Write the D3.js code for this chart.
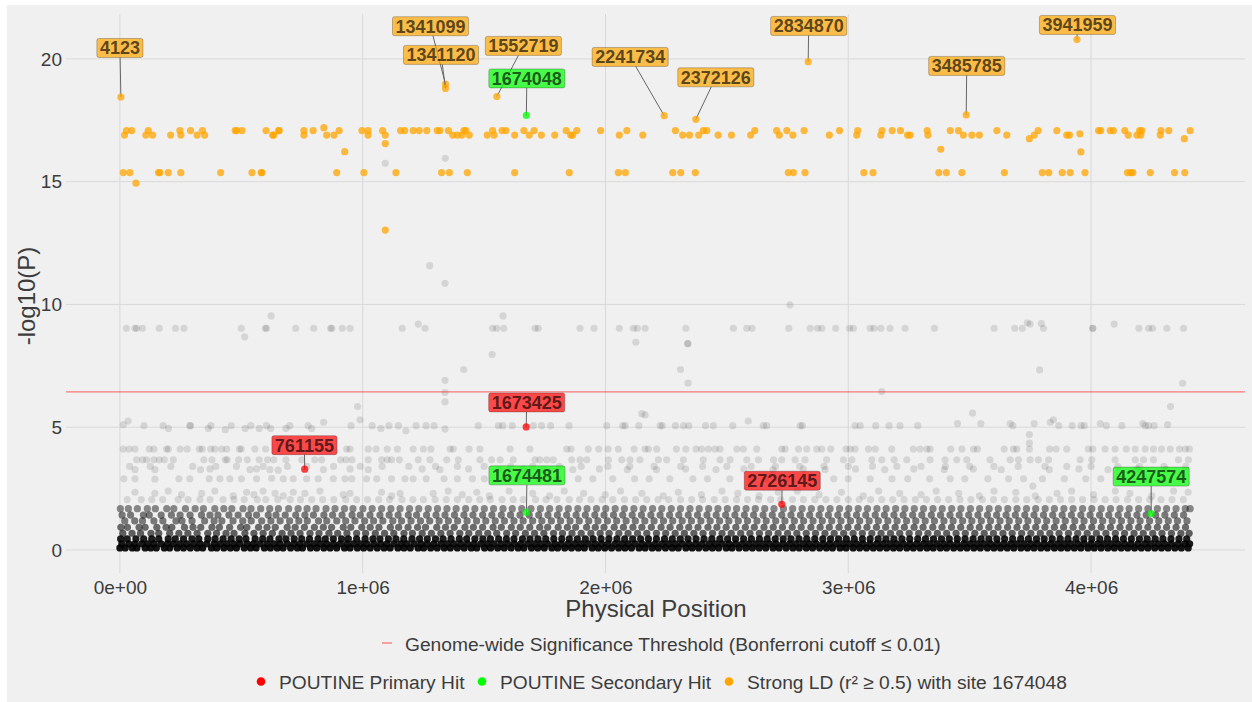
<!DOCTYPE html>
<html>
<head>
<meta charset="utf-8">
<script src="https://cdn.jsdelivr.net/npm/d3@7"></script>
<style>
  html, body { margin: 0; padding: 0; background: #fff; }
  svg { display: block; font-family: "Liberation Sans", Arial, Helvetica, sans-serif; }
</style>
</head>
<body>
<svg id="chart" width="1252" height="702"></svg>
<script>
// ---- data (positions in kb, values are -log10(P)) ----
const xTicks = [0, 1e6, 2e6, 3e6, 4e6];
const xTickLabels = ["0e+00", "1e+06", "2e+06", "3e+06", "4e+06"];
const yTicks = [0, 5, 10, 15, 20];
const threshold = 6.44; // Bonferroni cutoff <= 0.01

// dense band near zero: rows of sites, each mark stands for several stacked sites
const bandLevels = [0.08, 0.25, 0.45];
const bandCounts = [22, 20, 18];
const bandA = [0, 22, 51, 70, 104, 127, 150, 183, 205, 236, 262, 290, 318, 341, 377, 399, 428, 455, 480, 512, 538, 561, 595, 620, 648, 672, 703, 731, 752, 785, 811, 840, 866, 893, 925, 948, 978, 1004, 1031, 1060, 1088, 1113, 1145, 1170, 1196, 1228, 1251, 1280, 1307, 1336, 1361, 1390, 1418, 1447, 1470, 1502, 1527, 1556, 1583, 1611, 1640, 1664, 1695, 1721, 1748, 1779, 1803, 1832, 1860, 1888, 1913, 1945, 1970, 1997, 2025, 2054, 2080, 2107, 2138, 2163, 2192, 2218, 2247, 2275, 2300, 2331, 2357, 2384, 2413, 2440, 2466, 2497, 2521, 2550, 2578, 2605, 2633, 2660, 2690, 2715, 2744, 2772, 2798, 2827, 2853, 2882, 2910, 2935, 2966, 2991, 3020, 3047, 3075, 3103, 3130, 3158, 3186, 3212, 3241, 3268, 3296, 3324, 3350, 3379, 3405, 3434, 3462, 3489, 3517, 3544, 3573, 3600, 3627, 3655, 3682, 3711, 3738, 3765, 3793, 3820, 3849, 3876, 3903, 3931, 3958, 3987, 4013, 4041, 4069, 4096, 4124, 4151, 4179, 4207, 4234, 4262, 4290, 4317, 4345, 4372, 4400];
const bandB = [8, 37, 62, 90, 115, 141, 170, 196, 221, 249, 276, 304, 331, 358, 388, 414, 441, 469, 495, 524, 550, 578, 607, 634, 660, 689, 716, 742, 770, 798, 826, 852, 880, 908, 936, 963, 991, 1017, 1046, 1074, 1100, 1129, 1157, 1183, 1212, 1240, 1266, 1293, 1322, 1349, 1376, 1404, 1432, 1459, 1487, 1514, 1541, 1570, 1597, 1625, 1652, 1680, 1708, 1735, 1762, 1791, 1818, 1846, 1873, 1901, 1929, 1957, 1984, 2011, 2040, 2067, 2094, 2122, 2150, 2177, 2205, 2233, 2260, 2288, 2316, 2343, 2371, 2398, 2427, 2453, 2481, 2509, 2536, 2564, 2591, 2619, 2647, 2675, 2702, 2730, 2758, 2785, 2813, 2840, 2868, 2896, 2923, 2951, 2979, 3006, 3034, 3061, 3089, 3117, 3144, 3172, 3199, 3227, 3255, 3282, 3310, 3337, 3365, 3393, 3420, 3448, 3476, 3503, 3531, 3558, 3586, 3614, 3641, 3669, 3696, 3724, 3752, 3779, 3807, 3834, 3862, 3890, 3917, 3945, 3972, 4000, 4028, 4055, 4083, 4110, 4138, 4165, 4193, 4221, 4248, 4276, 4303, 4331, 4359, 4386, 4406];
const bandC = [3, 30, 66, 98, 131, 160, 199, 228, 262, 297, 325, 362, 392, 425, 458, 491, 519, 557, 588, 618, 655, 684, 718, 749, 781, 816, 846, 879, 913, 941, 975, 1010, 1042, 1071, 1106, 1137, 1169, 1203, 1234, 1266, 1300, 1331, 1364, 1398, 1428, 1462, 1495, 1526, 1560, 1592, 1623, 1658, 1689, 1722, 1754, 1787, 1820, 1851, 1884, 1917, 1949, 1982, 2014, 2047, 2079, 2112, 2145, 2177, 2210, 2243, 2275, 2308, 2340, 2373, 2406, 2438, 2471, 2503, 2536, 2569, 2601, 2634, 2666, 2699, 2732, 2764, 2797, 2829, 2862, 2895, 2927, 2960, 2992, 3025, 3058, 3090, 3123, 3155, 3188, 3221, 3253, 3286, 3318, 3351, 3384, 3416, 3449, 3481, 3514, 3547, 3579, 3612, 3644, 3677, 3710, 3742, 3775, 3807, 3840, 3873, 3905, 3938, 3970, 4003, 4036, 4068, 4101, 4133, 4166, 4199, 4231, 4264, 4296, 4329, 4362, 4394];

const midLevels = [0.68, 0.92, 1.18, 1.42, 1.68];
const midCounts = [8, 7, 6, 6, 5];
const midA = [12, 50, 85, 128, 160, 205, 243, 280, 318, 362, 398, 437, 470, 515, 552, 590, 628, 668, 705, 742, 783, 820, 861, 897, 935, 975, 1012, 1052, 1090, 1128, 1170, 1205, 1245, 1283, 1322, 1360, 1400, 1437, 1478, 1515, 1552, 1593, 1630, 1670, 1708, 1746, 1786, 1823, 1862, 1900, 1940, 1978, 2015, 2055, 2093, 2132, 2170, 2210, 2248, 2287, 2325, 2364, 2402, 2441, 2480, 2518, 2557, 2595, 2634, 2672, 2711, 2750, 2788, 2827, 2865, 2904, 2942, 2981, 3020, 3058, 3097, 3135, 3174, 3212, 3251, 3290, 3328, 3367, 3405, 3444, 3482, 3521, 3560, 3598, 3637, 3675, 3714, 3752, 3791, 3830, 3868, 3907, 3945, 3984, 4022, 4061, 4100, 4138, 4177, 4215, 4254, 4292, 4331, 4370, 4404];
const midB = [4, 31, 79, 104, 152, 190, 214, 266, 301, 333, 379, 410, 452, 497, 523, 571, 606, 640, 689, 722, 760, 801, 838, 872, 920, 951, 996, 1031, 1067, 1114, 1148, 1187, 1226, 1259, 1305, 1341, 1377, 1421, 1456, 1494, 1537, 1571, 1612, 1649, 1688, 1729, 1762, 1805, 1843, 1877, 1922, 1958, 1994, 2036, 2074, 2113, 2150, 2189, 2229, 2266, 2306, 2343, 2381, 2422, 2459, 2497, 2537, 2576, 2613, 2653, 2691, 2729, 2769, 2806, 2846, 2884, 2922, 2962, 2999, 3039, 3077, 3116, 3154, 3193, 3231, 3271, 3308, 3348, 3386, 3425, 3463, 3502, 3540, 3579, 3617, 3656, 3695, 3733, 3772, 3810, 3849, 3887, 3926, 3964, 4003, 4042, 4080, 4119, 4157, 4196, 4234, 4273, 4311, 4350, 4389];
const midC = [20, 61, 93, 140, 177, 231, 256, 297, 349, 388, 420, 466, 506, 541, 584, 622, 660, 699, 737, 772, 818, 852, 893, 930, 968, 1008, 1045, 1083, 1124, 1160, 1199, 1238, 1276, 1315, 1353, 1391, 1430, 1469, 1507, 1546, 1584, 1623, 1661, 1700, 1738, 1777, 1815, 1854, 1892, 1931, 1969, 2008, 2046, 2085, 2123, 2162, 2200, 2239, 2277, 2316, 2354, 2393, 2431, 2470, 2508, 2547, 2585, 2624, 2662, 2701, 2739, 2778, 2816, 2855, 2893, 2932, 2970, 3009, 3047, 3086, 3124, 3163, 3201, 3240, 3278, 3317, 3355, 3394, 3432, 3471, 3509, 3548, 3586, 3625, 3663, 3702, 3740, 3779, 3817, 3856, 3894, 3933, 3971, 4010, 4048, 4087, 4125, 4164, 4202, 4241, 4279, 4318, 4356, 4395];
const midD = [9, 44, 97, 121, 170, 212, 248, 289, 336, 371, 404, 449, 487, 530, 563, 611, 643, 681, 724, 762, 797, 840, 876, 915, 956, 990, 1030, 1071, 1109, 1146, 1188, 1222, 1263, 1302, 1339, 1378, 1417, 1454, 1494, 1532, 1571, 1609, 1648, 1686, 1725, 1763, 1802, 1840, 1879, 1917, 1956, 1994, 2033, 2071, 2110, 2148, 2187, 2225, 2264, 2302, 2341, 2379, 2418, 2456, 2495, 2533, 2572, 2610, 2649, 2687, 2726, 2764, 2803, 2841, 2880, 2918, 2957, 2995, 3034, 3072, 3111, 3149, 3188, 3226, 3265, 3303, 3342, 3380, 3419, 3457, 3496, 3534, 3573, 3611, 3650, 3688, 3727, 3765, 3804, 3842, 3881, 3919, 3958, 3996, 4035, 4073, 4112, 4150, 4189, 4227, 4266, 4304, 4343, 4381];
const midE = [2, 35, 72, 113, 146, 193, 222, 270, 310, 344, 391, 428, 461, 507, 540, 580, 617, 653, 695, 734, 771, 808, 849, 886, 925, 960, 1001, 1039, 1078, 1116, 1154, 1193, 1231, 1270, 1308, 1347, 1385, 1424, 1462, 1501, 1539, 1578, 1616, 1655, 1693, 1732, 1770, 1809, 1847, 1886, 1924, 1963, 2001, 2040, 2078, 2117, 2155, 2194, 2232, 2271, 2309, 2348, 2386, 2425, 2463, 2502, 2540, 2579, 2617, 2656, 2694, 2733, 2771, 2810, 2848, 2887, 2925, 2964, 3002, 3041, 3079, 3118, 3156, 3195, 3233, 3272, 3310, 3349, 3387, 3426, 3464, 3503, 3541, 3580, 3618, 3657, 3695, 3734, 3772, 3811, 3849, 3888, 3926, 3965, 4003, 4042, 4080, 4119, 4157, 4196, 4234, 4273, 4311, 4350, 4388, 4408];

// scattered sites between 2 and 3.4
const row205 = [30, 88, 131, 176, 240, 281, 330, 371, 425, 470, 512, 566, 601, 650, 702, 744, 790, 835, 881, 930, 975, 1020, 1066, 1110, 1162, 1207, 1250, 1298, 1344, 1390, 1437, 1482, 1525, 1574, 1620, 1661, 1712, 1755, 1800, 1851, 1893, 1940, 1986, 2030, 2078, 2124, 2170, 2216, 2260, 2309, 2355, 2400, 2448, 2493, 2540, 2585, 2630, 2680, 2722, 2770, 2815, 2862, 2908, 2953, 3000, 3045, 3092, 3138, 3183, 3230, 3276, 3322, 3368, 3413, 3460, 3505, 3552, 3598, 3643, 3690, 3735, 3782, 3828, 3874, 3920, 3965, 4012, 4058, 4103, 4150, 4196, 4242, 4288, 4333, 4380];
const row340 = [40, 125, 210, 300, 395, 480, 590, 690, 770, 880, 990, 1080, 1190, 1300, 1390, 1500, 1610, 1700, 1810, 1900, 2010, 2100, 2200, 2310, 2400, 2500, 2600, 2700, 2800, 2900, 3000, 3100, 3200, 3300, 3400, 3500, 3600, 3700, 3810, 3900, 4000, 4110, 4200, 4300, 4390];
const sparseLow = [[62,3.27],[144,3.27],[332,3.27],[371,3.3],[536,3.27],[563,3.3],[618,3.27],[652,3.25],[838,3.27],[948,3.3],[1023,3.27],
  [16,2.9],[62,2.9],[144,2.88],[243,2.9],[288,2.9],[368,2.9],[412,2.9],[453,2.9],[501,2.9],[563,2.9],[625,2.92],[673,2.9],[714,2.9],[769,2.9],[817,2.9],[879,2.9],[927,2.9],[955,2.9],[1016,2.9],[1058,2.9],[1119,2.9],[1174,2.9],[1208,2.9],
  [62,2.35],[144,2.3],[199,2.4],[254,2.25],[337,2.3],[391,2.4],[467,2.2],[522,2.35],[552,2.25],[590,2.4],[639,2.3],[673,2.2],[714,2.35],[762,2.3],[824,2.4],[920,2.25],[948,2.3],[1078,2.35],[1119,2.2],[1154,2.3],
  [1245,3.3],[1262,2.9],[1290,2.3],[1318,3.27],[1335,2.9],[1352,2.4],[1390,2.9],[1410,2.25],[1436,3.3],[1452,2.9],[1470,2.35],[1501,2.9],[1522,2.2],[1560,3.27],[1585,2.9],[1603,2.4],[1640,2.9],[1662,3.3],[1700,2.3],[1725,2.9],[1748,3.27],[1770,2.2],[1802,2.9],[1830,2.4],[1865,3.27],[1888,2.9],[1910,2.3],[1948,2.9],[1975,3.3],[1999,2.25],[2030,2.9],[2062,2.4],[2090,3.27],[2120,2.9],[2150,2.3],[2180,2.9],[2210,3.27],[2238,2.2],[2265,2.9],[2300,2.35],[2330,3.3],[2360,2.9],[2395,2.25],[2420,2.9],[2455,3.27],[2480,2.4],[2512,2.9],[2545,2.3],[2570,3.3],[2600,2.9],[2633,2.2],[2660,2.9],[2690,3.27],[2712,2.35],[2745,2.9],[2790,2.4],[2815,3.3],[2850,2.9],[2880,2.25],[2905,3.27],[2940,2.9],[2972,2.35],[3000,2.9],[3030,3.3],[3062,2.2],[3090,2.9],[3125,2.4],[3150,3.27],[3180,2.9],[3212,2.3],[3245,2.9],[3270,3.3],[3300,2.25],[3335,2.9],[3362,2.4],[3395,3.27],[3420,2.9],[3455,2.3],[3480,2.9],[3515,3.3],[3540,2.2],[3575,2.9],[3600,2.4],[3630,3.27],[3660,2.9],[3690,2.35],[3722,2.9],[3746,4.7],[3746,4.35],[3760,2.6],[3770,2.2],[3800,2.9],[3828,3.27],[3860,2.3],[3890,2.9],[3920,2.4],[3950,3.3],[3978,2.9],[4010,2.25],[4040,2.9],[4070,3.27],[4100,2.4],[4130,2.9],[4160,2.3],[4190,3.3],[4220,2.9],[4250,2.2],[4280,2.9],[4310,3.27],[4340,2.4],[4370,2.9],[4400,2.35]];

// rows near 3.67, 4.1 and 5.06
const row367 = [69, 93, 110, 140, 162, 183, 220, 346, 379, 434, 442, 489, 525, 574, 608, 634, 684, 749, 803, 831, 909, 931, 956, 1023, 1078, 1101, 1119, 1151, 1229, 1277, 1346, 1394, 1483, 1531, 1566, 1620, 1710, 1730, 1758, 1785, 1861, 1895, 1923, 2012, 2067, 2101, 2142, 2218, 2252, 2321, 2403, 2472, 2513, 2582, 2630, 2692, 2726, 2781, 2822, 2911, 2980, 3015, 3097, 3138, 3189, 3241, 3337, 3399, 3447, 3488, 3584, 3667, 3701, 3749, 3783, 3825, 3955, 4003, 4099, 4182, 4216, 4257, 4360, 4401];
const row410 = [14, 38, 62, 121, 140, 192, 200, 248, 277, 327, 339, 374, 391, 419, 440, 492, 500, 556, 600, 934, 948, 1023, 1055, 1101, 1143, 1208, 1250, 1281, 1360, 1373, 1438, 1483, 1607, 1689, 1840, 1858, 1929, 1972, 2011, 2053, 2118, 2163, 2177, 2211, 2292, 2331, 2373, 2396, 2424, 2451, 2472, 2541, 2568, 2623, 2726, 2740, 2795, 2829, 2870, 2891, 2928, 2991, 3008, 3028, 3083, 3111, 3179, 3268, 3296, 3324, 3337, 3422, 3468, 3516, 3532, 3642, 3680, 3694, 3746, 3829, 3856, 3900, 3989, 4007, 4058, 4099, 4145, 4182, 4223, 4257, 4290, 4326, 4364, 4388, 4405];
const row506 = [[14,5.1],[34,5.25],[99,5.06],[178,5.06],[200,4.95],[288,5.06],[291,5.06],[364,4.95],[375,5.06],[434,4.9],[459,5.06],[516,4.95],[539,5.06],[574,4.95],[604,5.06],[621,4.95],[684,4.95],[700,5.06],[775,5.06],[790,4.95],[839,5.2],[952,5.06],[989,5.3],[1039,5.06],[1075,4.95],[1108,5.06],[1147,5.06],[1178,4.85],[1220,5.06],
  [1261,5.06],[1294,5.06],[1339,4.93],[1476,5.06],[1559,5.06],[1577,5.06],[1616,5.06],[1703,5.06],[1737,5.06],[1774,5.06],[1850,5.06],[2005,5.06],[2071,5.06],[2081,5.06],[2137,5.06],[2150,5.55],[2163,5.5],[2225,5.06],[2234,5.06],[2288,5.06],[2321,5.06],[2343,5.06],[2412,5.06],[2444,5.06],[2524,5.06],[2588,5.25],[2650,5.06],[2664,5.06],[2802,5.06],[2811,5.06],
  [3028,5.06],[3049,5.06],[3113,5.06],[3168,5.06],[3213,5.06],[3286,5.06],[3450,5.15],[3546,5.15],[3667,5.15],[3678,5.06],[3766,5.15],[3832,5.2],[3845,5.3],[3867,5.06],[3922,5.06],[3959,5.06],[3972,5.06],[4038,5.15],[4063,5.06],[4127,5.06],[4213,5.15],[4223,5.06],[4237,5.06],[4260,5.06],[4315,5.1]];
const row903 = [27, 62, 69, 93, 162, 229, 264, 500, 599, 604, 724, 798, 868, 873, 916, 948, 1163, 1257, 1535, 1552, 1581, 1710, 1723, 1895, 1953, 2057, 2115, 2131, 2163, 2331, 2527, 2582, 2604, 2755, 2843, 2873, 2891, 2948, 3005, 3021, 3090, 3106, 3134, 3172, 3234, 3355, 3601, 3686, 3717, 3804, 4007, 4007, 4197, 4237, 4253, 4312, 4381];
const greyOther = [[514,8.68],[623,9.53],[1229,9.2],[1276,11.58],[1339,10.86],[1578,9.53],[1533,7.96],[1416,7.35],[1339,6.91],[1339,6.41],[1339,6.03],[2125,8.46],[2339,8.4],[2339,8.4],[2309,7.35],[2340,6.8],[2760,9.98],[3738,9.25],[3749,9.2],[3795,9.22],[4095,9.2],[3788,7.33],[3138,6.45],[4377,6.79],[4327,5.84],[3512,5.57],[979,5.84],[1093,15.75],[1340,15.95]];

// sites in strong LD (r2 >= 0.5) with 1674048
const ldRow1708 = [27, 49, 117, 247, 291, 340, 475, 481, 503, 602, 654, 656, 758, 796, 903, 997, 1022, 1082, 1156, 1173, 1208, 1233, 1264, 1307, 1318, 1353, 1417, 1425, 1535, 1574, 1590, 1664, 1706, 1838, 1882, 1980, 2088, 2288, 2403, 2417, 2615, 2705, 2747, 2818, 2964, 3039, 3139, 3181, 3215, 3325, 3420, 3454, 3612, 3782, 3859, 4031, 4040, 4079, 4092, 4139, 4200, 4209, 4288, 4320, 4408];
const ldRow1690 = [19, 107, 135, 209, 251, 318, 349, 629, 634, 758, 852, 882, 1022, 1093, 1371, 1390, 1409, 1439, 1513, 1541, 1626, 1686, 1736, 1791, 1857, 1865, 2057, 2154, 2318, 2346, 2384, 2464, 2519, 2598, 2716, 2772, 2922, 3035, 3134, 3244, 3255, 3328, 3474, 3509, 3540, 3653, 3766, 3900, 3911, 4153, 4189, 4205, 4285];
const ldRow1537 = [14, 41, 159, 165, 199, 251, 415, 544, 582, 585, 893, 1005, 1137, 1325, 1357, 1431, 1626, 1851, 2053, 2082, 2277, 2310, 2370, 2753, 2774, 2822, 3064, 3102, 3373, 3404, 3468, 3643, 3799, 3826, 3881, 3914, 3975, 4150, 4164, 4172, 4244, 4344, 4386];
const ldOther = [[66,14.94],[926,16.22],[1093,16.55],[1093,13.03],[3381,16.32],[3958,16.21],[3954,16.95],[840,17.2],[3746,16.75],[4384,16.75]];

// labelled sites
const ldSites = [4123, 1341099, 1341120, 1552719, 2241734, 2372126, 2834870, 3485785, 3941959];
const ldLogP = [18.45, 18.97, 18.8, 18.47, 17.69, 17.54, 19.89, 17.72, 20.79];
const primarySites = [761155, 1673425, 2726145];
const primaryLogP = [3.29, 5.01, 1.86];
const secondarySites = [1674048, 1674481, 4247574];
const secondaryLogP = [17.7, 1.53, 1.48];

// where each label box sits relative to its point (px)
const labelNudge = {
  4123: [-1, -49], 1341099: [-15, -58], 1341120: [-4.5, -33.5], 1552719: [26.5, -50.6],
  1674048: [0.5, -37], 2241734: [-34, -58.7], 2372126: [20, -42], 2834870: [0.5, -35.7],
  3485785: [0.5, -49], 3941959: [0.5, -14.6], 1673425: [0.5, -24.5], 761155: [-0.3, -24],
  1674481: [0.5, -37], 2726145: [0.5, -23.5], 4247574: [0, -37]
};

// ---- drawing ----
const W = 1252, H = 702;
const svg = d3.select("#chart");
const ink = "#3c3c3c";
const orange = "#FFA500", green = "#00FF00", red = "#FF0000";
const R = 3.6;

svg.append("rect").attr("x", 7).attr("y", 5).attr("width", W - 7).attr("height", H - 5).attr("fill", "#f0f0f0");

const x = d3.scaleLinear().domain([-222000, 4634000]).range([66, 1245]);
const y = d3.scaleLinear().domain([-0.94, 21.83]).range([573, 14]);
const kb = v => x(v * 1000);

// grid
const grid = svg.append("g").attr("stroke", "#d9d9d9").attr("stroke-width", 1);
grid.selectAll(".gy").data(yTicks).enter().append("line")
  .attr("x1", 66).attr("x2", 1245).attr("y1", d => y(d)).attr("y2", d => y(d));
grid.selectAll(".gx").data(xTicks).enter().append("line")
  .attr("y1", 14).attr("y2", 573).attr("x1", d => x(d)).attr("x2", d => x(d));

// axes text
const yAxis = d3.axisLeft(y).tickValues(yTicks).tickSize(0).tickPadding(0);
svg.append("g").attr("transform", "translate(62,0)").call(yAxis)
  .call(g => g.select(".domain").remove())
  .selectAll("text").attr("font-size", 19).attr("fill", ink).attr("font-family", null);
const xAxis = d3.axisBottom(x).tickValues(xTicks).tickFormat((d, i) => xTickLabels[i]).tickSize(0).tickPadding(0);
svg.append("g").attr("transform", "translate(0,580.5)").call(xAxis)
  .call(g => g.select(".domain").remove())
  .selectAll("text").attr("font-size", 19).attr("fill", ink).attr("font-family", null);

svg.append("text").attr("x", 656).attr("y", 617).attr("text-anchor", "middle")
  .attr("font-size", 24).attr("fill", ink).text("Physical Position");
svg.append("text").attr("transform", "translate(35,296) rotate(-90)").attr("text-anchor", "middle")
  .attr("font-size", 24).attr("fill", ink).text("-log10(P)");

// grey sites
const pts = svg.append("g");
const op = n => 1 - Math.pow(0.89, n);
[bandA, bandB, bandC].forEach((row, i) => {
  pts.append("g").attr("fill", "#000").attr("fill-opacity", op(bandCounts[i]))
    .selectAll("circle").data(row).enter().append("circle")
    .attr("cx", d => kb(d)).attr("cy", y(bandLevels[i])).attr("r", R);
});
[midA, midB, midC, midD, midE].forEach((row, i) => {
  pts.append("g").attr("fill", "#000").attr("fill-opacity", op(midCounts[i]))
    .selectAll("circle").data(row).enter().append("circle")
    .attr("cx", d => kb(d)).attr("cy", y(midLevels[i])).attr("r", R);
});
const sparse = sparseLow.concat(row205.map(d => [d, 2.05]), row340.map(d => [d, 3.4]),
  row367.map(d => [d, 3.67]), row410.map(d => [d, 4.11]), row506,
  row903.map(d => [d, 9.03]), greyOther);
pts.append("g").attr("fill", "#000").attr("fill-opacity", 0.11)
  .selectAll("circle").data(sparse).enter().append("circle")
  .attr("cx", d => kb(d[0])).attr("cy", d => y(d[1])).attr("r", R);

// threshold
svg.append("line").attr("x1", 66).attr("x2", 1245).attr("y1", y(threshold)).attr("y2", y(threshold))
  .attr("stroke", red).attr("stroke-opacity", 0.5).attr("stroke-width", 1.3);

// LD sites
const ld = ldRow1708.map(d => [d, 17.08]).concat(ldRow1690.map(d => [d, 16.9]), ldRow1537.map(d => [d, 15.37]), ldOther);
svg.append("g").attr("fill", orange).attr("fill-opacity", 0.75)
  .selectAll("circle").data(ld).enter().append("circle")
  .attr("cx", d => kb(d[0])).attr("cy", d => y(d[1])).attr("r", R);

// labelled sites
const hits = ldSites.map((s, i) => ({ pos: s, p: ldLogP[i], col: orange }))
  .concat(primarySites.map((s, i) => ({ pos: s, p: primaryLogP[i], col: red })))
  .concat(secondarySites.map((s, i) => ({ pos: s, p: secondaryLogP[i], col: green })));

const lab = svg.append("g");
hits.forEach(h => {
  const px = x(h.pos), py = y(h.p);
  const [dx, dy] = labelNudge[h.pos];
  const cx = px + dx, cy = py + dy;
  const g = lab.append("g");
  const t = g.append("text").attr("x", cx).attr("y", cy + 6.5).attr("text-anchor", "middle")
    .attr("font-size", 18).attr("font-weight", "bold").attr("fill", "#000").attr("fill-opacity", 0.65)
    .text(h.pos);
  const tw = t.node().getComputedTextLength();
  const hw = tw / 2 + 3, hh = 9.5;
  // segment from box edge to point
  const vx = px - cx, vy = py - cy;
  const s = Math.min(vx ? hw / Math.abs(vx) : Infinity, vy ? hh / Math.abs(vy) : Infinity);
  if (s < 1) {
    g.insert("line", "text").attr("x1", cx + vx * s).attr("y1", cy + vy * s).attr("x2", px).attr("y2", py)
      .attr("stroke", "#666").attr("stroke-width", 1);
  }
  g.insert("rect", "text").attr("x", cx - hw).attr("y", cy - hh).attr("width", hw * 2).attr("height", hh * 2)
    .attr("rx", 2).attr("fill", h.col).attr("fill-opacity", 0.7)
    .attr("stroke", "#000").attr("stroke-opacity", 0.3).attr("stroke-width", 0.8);
  lab.append("circle").attr("cx", px).attr("cy", py).attr("r", R)
    .attr("fill", h.col).attr("fill-opacity", 0.75);
});

// legend
const leg = svg.append("g").attr("font-size", 19.2).attr("fill", ink);
leg.append("line").attr("x1", 382).attr("x2", 392).attr("y1", 643).attr("y2", 643)
  .attr("stroke", red).attr("stroke-opacity", 0.45).attr("stroke-width", 1.5);
leg.append("text").attr("x", 405).attr("y", 650.5).text("Genome-wide Significance Threshold (Bonferroni cutoff \u2264 0.01)");
const keys = [
  { col: red, cx: 261, tx: 279, label: "POUTINE Primary Hit" },
  { col: green, cx: 482, tx: 500, label: "POUTINE Secondary Hit" },
  { col: orange, cx: 729, tx: 747, label: "Strong LD (r\u00b2 \u2265 0.5) with site 1674048" }
];
keys.forEach(k => {
  leg.append("circle").attr("cx", k.cx).attr("cy", 681.5).attr("r", 4.3).attr("fill", k.col);
  leg.append("text").attr("x", k.tx).attr("y", 688.5).text(k.label);
});
</script>
</body>
</html>
